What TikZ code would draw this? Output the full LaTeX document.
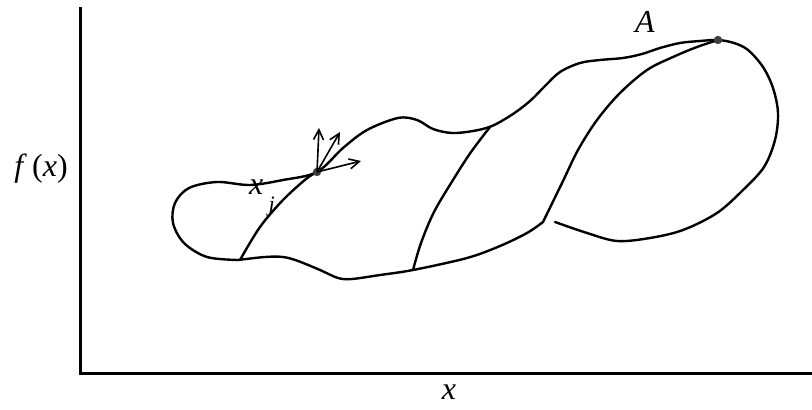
\documentclass[tikz,border=0pt]{standalone}
\usepackage{fontspec}
\setmainfont{Liberation Serif}
\usetikzlibrary{arrows.meta}
\begin{document}
\begin{tikzpicture}[x=0.5pt,y=-0.5pt,
  curve/.style={line width=1.2pt, line join=round, line cap=round},
  axis/.style={line width=1.5pt},
  vec/.style={line width=0.8pt, -{Straight Barb[length=5pt,width=5pt]}},
  lbl/.style={font=\fontsize{16}{19}\selectfont, inner sep=0pt},
  dot/.style={circle, fill=black!75, inner sep=0pt, minimum size=4.2pt}]
\useasboundingbox (0,0) rectangle (812,410);
% axes
\coordinate (ytop) at (80,7);
\coordinate (orig) at (80,374);
\coordinate (xend) at (814,374);
\draw[axis] (ytop) -- (orig) -- (xend);
\node[lbl] (fx) at (41,169) {\textit{f}\,(\textit{x})};
\node[lbl] (xl) at (449,392) {\textit{x}};
% outer boundary: left lobe, top edge, right loop
\draw[curve] plot[smooth, tension=0.55] coordinates {
 (238,260) (207,257) (184,243) (173,223) (175,203) (189,188) (217,182)
 (250,185) (283,180) (317,172) (343,148) (367,130) (398,118) (417,120)
 (433,129) (452,133) (473,131) (492,126) (513,114) (530,101) (545,86)
 (560,72) (580,63) (600,60) (623,58) (642,54) (660,48) (680,43) (700,41) (718,40)
 (734,43) (748,50) (763,67) (773,88) (778,113) (775,140) (764,167)
 (743,190) (717,213) (683,230) (650,238) (617,241) (587,233) (555,222)};
% bottom edge
\draw[curve] plot[smooth, tension=0.55] coordinates {
 (238,260) (265,257) (283,257) (298,261) (320,270) (338,278) (352,279)
 (380,275) (413,270) (467,258) (500,246) (527,233) (543,222)};
% stripes
\draw[curve] plot[smooth, tension=0.55] coordinates {
 (240,260) (260,227) (283,200) (306,179) (317,172)};
\draw[curve] plot[smooth, tension=0.55] coordinates {
 (413,270) (421,243) (434,212) (453,180) (471,152) (490,127)};
\draw[curve] plot[smooth, tension=0.55] coordinates {
 (543,222) (563,181) (578,150) (597,120) (620,93) (647,70) (673,57)
 (697,47) (718,40)};
% points
\node[dot] (xj) at (317,172) {};
\node[dot] (A) at (718,40) {};
\node[lbl] (Al) at (645,22) {\textit{A}};
\node[lbl] (xjl) at (262,198) {\textit{x}\raisebox{-1.2ex}{\,\fontsize{11}{13}\selectfont\textit{j}}};
% direction vectors
\coordinate (t1) at (319,128);
\coordinate (t2) at (340,132);
\coordinate (t3) at (361,161);
\draw[vec] (xj.center) -- (t1);
\draw[vec] (xj.center) -- (t2);
\draw[vec] (xj.center) -- (t3);
\end{tikzpicture}
\end{document}
